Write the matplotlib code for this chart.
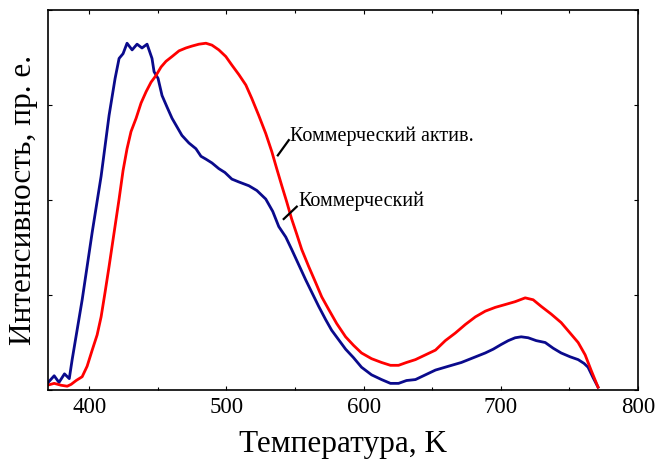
import numpy as np
import matplotlib
matplotlib.use('Agg')
import matplotlib.pyplot as plt
from matplotlib.ticker import MultipleLocator, NullFormatter

plt.rcParams['font.family'] = ['Liberation Serif', 'DejaVu Serif']

# Коммерческий (синяя кривая)
t_com = [369.5, 374.5, 378, 382, 385.5, 387.6, 394.9, 402.2, 408.7, 414.5, 418.9, 421.8,
         424.7, 427.6, 431.3, 434.9, 438.5, 442.2, 445.8, 447.3, 450.2, 453.1, 456.7,
         460.4, 464, 467.6, 472.7, 477.8, 481.5, 485.1, 489.5, 494.5, 498.9, 504, 509.1,
         516.4, 522.2, 528.7, 533.8, 538.2, 543.3, 547.6, 552.7, 557.8, 562.2, 567.3,
         572.4, 576.7, 581.8, 586.9, 592.7, 598.5, 605.8, 613.1, 619.6, 625.5, 631.3,
         637.8, 645.1, 652.4, 661.8, 671.3, 680, 688.7, 694.5, 700.4, 705.5, 710.5,
         714.9, 720, 725.8, 732.4, 738.2, 744, 750.5, 756.4, 760.7, 763.6, 767.3, 770.9]
i_com = [0.07, 0.15, 0.08, 0.17, 0.12, 0.32, 0.95, 1.66, 2.25, 2.89, 3.28, 3.49,
         3.54, 3.65, 3.58, 3.64, 3.60, 3.64, 3.49, 3.35, 3.28, 3.10, 2.98,
         2.86, 2.77, 2.68, 2.60, 2.54, 2.46, 2.43, 2.39, 2.33, 2.29, 2.22, 2.19,
         2.15, 2.10, 2.01, 1.88, 1.72, 1.61, 1.48, 1.32, 1.16, 1.03, 0.88,
         0.74, 0.63, 0.53, 0.43, 0.34, 0.24, 0.16, 0.11, 0.07, 0.07, 0.10,
         0.11, 0.16, 0.21, 0.25, 0.29, 0.34, 0.39, 0.43, 0.48, 0.52, 0.55,
         0.56, 0.55, 0.52, 0.50, 0.44, 0.39, 0.35, 0.32, 0.28, 0.24, 0.13, 0.03]

# Коммерческий актив. (красная кривая)
t_act = [369.5, 374.5, 379.6, 384, 386.9, 390.5, 394.9, 398.5, 402.2, 405.8, 408.7, 411.6,
         414.5, 418.2, 421.8, 424.7, 427.6, 430.5, 434.2, 437.8, 441.5, 445.1, 448.7,
         452.4, 456, 460.4, 465.5, 470.5, 474.9, 480, 485.1, 489.5, 494.5, 499.6, 504,
         509.1, 514.2, 518.5, 523.6, 528.7, 533.1, 536.7, 540.4, 544, 547.6, 551.3,
         554.9, 560, 565.1, 569.5, 574.5, 580.4, 586.9, 592.7, 598.5, 605.8, 613.1,
         619.6, 625.5, 631.3, 637.8, 645.1, 652.4, 659.6, 666.9, 674.2, 681.5, 688.7,
         696, 703.3, 710.5, 717.8, 723.6, 729.5, 736.7, 744, 750.5, 756.4, 761.5,
         765.8, 770.9]
i_act = [0.05, 0.07, 0.05, 0.04, 0.06, 0.10, 0.14, 0.25, 0.42, 0.58, 0.77, 1.03,
         1.30, 1.66, 2.01, 2.31, 2.54, 2.72, 2.86, 3.02, 3.14, 3.24, 3.31,
         3.40, 3.46, 3.51, 3.57, 3.60, 3.62, 3.64, 3.65, 3.63, 3.58, 3.51, 3.42,
         3.32, 3.21, 3.07, 2.89, 2.70, 2.51, 2.33, 2.15, 1.98, 1.80, 1.64,
         1.48, 1.30, 1.13, 0.98, 0.85, 0.70, 0.56, 0.47, 0.39, 0.33, 0.29,
         0.26, 0.26, 0.29, 0.32, 0.37, 0.42, 0.52, 0.60, 0.69, 0.77, 0.83,
         0.87, 0.90, 0.93, 0.97, 0.95, 0.88, 0.80, 0.71, 0.60, 0.50, 0.37,
         0.21, 0.03]

x_ticks = [400, 500, 600, 700, 800]

fig = plt.figure(figsize=(6.55, 4.62), dpi=100)
ax = fig.add_axes([0.0733, 0.1558, 0.9007, 0.8226])

ax.plot(t_com, i_com, color='#0a0a8c', linewidth=2.0)
ax.plot(t_act, i_act, color='#ff0000', linewidth=2.0)

ax.set_xlim(370, 800)
ax.set_ylim(0, 4)
ax.set_xticks(x_ticks)
ax.xaxis.set_minor_locator(MultipleLocator(50))
ax.yaxis.set_major_locator(MultipleLocator(1))
ax.yaxis.set_major_formatter(NullFormatter())
ax.tick_params(which='both', direction='in', top=True, right=True, labelsize=16.5,
               length=3, width=0.8, pad=5)
ax.tick_params(which='minor', length=2)
for s in ax.spines.values():
    s.set_linewidth(1.2)

ax.set_xlabel('Температура, K', fontsize=22.5, labelpad=9)
ax.set_ylabel('Интенсивность, пр. е.', fontsize=22.5, labelpad=2)

# подписи кривых с выносными линиями
ax.plot([537.5, 545.5], [2.47, 2.63], color='black', lw=1.6)
ax.text(546.2, 2.67, 'Коммерческий актив.', fontsize=14.5, va='center', ha='left')
ax.plot([541.8, 551.3], [1.80, 1.93], color='black', lw=1.6)
ax.text(552.7, 1.99, 'Коммерческий', fontsize=14.5, va='center', ha='left')

fig.savefig('out.png', dpi=100)
